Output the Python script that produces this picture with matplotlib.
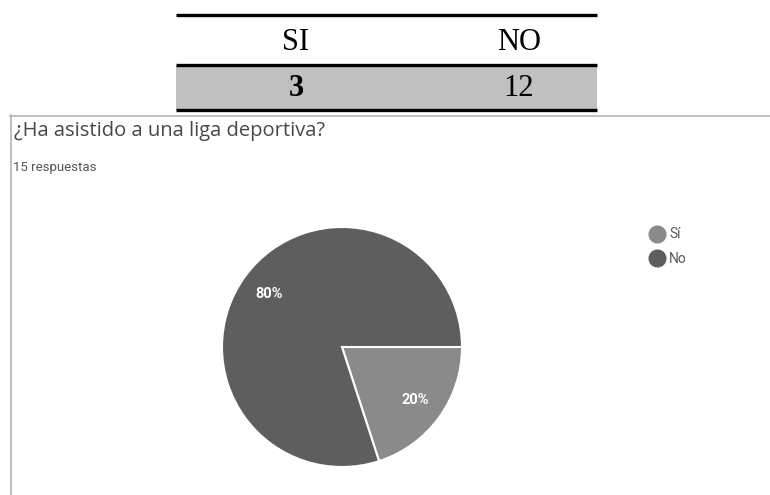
import matplotlib.pyplot as plt
from matplotlib.lines import Line2D
from matplotlib.patches import Rectangle

# survey answers
categories = ['Sí', 'No']
counts = [3, 12]
table_header = ['SI', 'NO']
question = '¿Ha asistido a una liga deportiva?'
n_answers = '15 respuestas'

slice_colors = ['#8a8a8a', '#5e5e5e']

W, H = 770, 495
fig = plt.figure(figsize=(W / 100, H / 100), dpi=100)

# overlay axes in pixel coords (y downwards) for the table and the card frame
bg = fig.add_axes([0, 0, 1, 1])
bg.set_xlim(0, W)
bg.set_ylim(H, 0)
bg.axis('off')

# summary table above the card
tx0, tx1 = 176, 597
bg.add_patch(Rectangle((tx0, 66), tx1 - tx0, 44, color='#c0c0c0', lw=0))
for y in (15, 65, 110):
    bg.plot([tx0, tx1], [y, y], color='black', lw=2.4, solid_capstyle='butt')
col_x = [296, 519]
for x, head, val, bold in zip(col_x, table_header, counts, [True, False]):
    bg.text(x, 42, head, ha='center', va='center', fontsize=22,
            family='Liberation Serif', color='black')
    bg.text(x, 88, str(val), ha='center', va='center', fontsize=22,
            family='Liberation Serif', color='black',
            fontweight='bold' if bold else 'normal')

# card frame (top and left border)
bg.plot([10, W], [115.5, 115.5], color='#b5b5b5', lw=1.2)
bg.plot([10.5, 10.5], [115, H], color='#b5b5b5', lw=1.2)

bg.text(14, 131, question, ha='left', va='center', fontsize=14.5,
        family='Open Sans', color='#484848')
bg.text(13, 168, n_answers, ha='left', va='center', fontsize=9.5,
        family='Roboto', color='#555555')

# pie
ax = fig.add_axes([222 / W, (H - 467) / H, 240 / W, 240 / H])
wedges, texts, autotexts = ax.pie(
    counts, colors=slice_colors, startangle=0, counterclock=False,
    autopct='%1.0f%%', pctdistance=0.75,
    wedgeprops=dict(edgecolor='white', linewidth=1.5),
    textprops=dict(color='white', fontsize=10.5, fontweight='bold', family='Roboto'))
ax.set_xlim(-1, 1)
ax.set_ylim(-1, 1)

handles = [Line2D([], [], marker='o', ls='', markersize=12,
                  markerfacecolor=c, markeredgecolor=c) for c in slice_colors]
fig.legend(handles, categories, loc='upper left',
           bbox_to_anchor=(636 / W, 1 - 215 / H), frameon=False,
           handletextpad=0.3, labelspacing=0.75, handlelength=1.2,
           prop=dict(family='Roboto', size=10), labelcolor='#5a5a5a')

fig.savefig('out.png', dpi=100)
